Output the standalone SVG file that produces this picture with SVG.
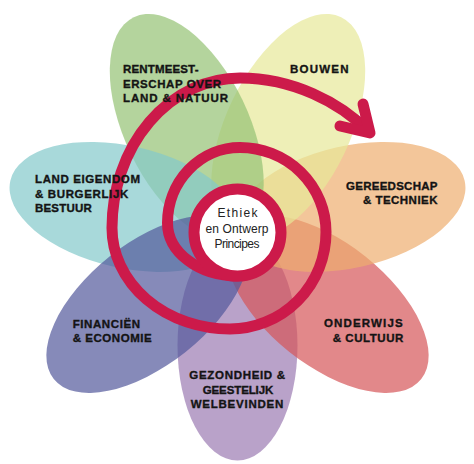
<svg xmlns="http://www.w3.org/2000/svg" width="474" height="464" viewBox="0 0 474 464">
<style>
.petal{fill-opacity:0.7;stroke:none}
.lbl{font-family:"Liberation Sans",Arial,sans-serif;font-weight:700;font-size:11.5px;fill:#141414;stroke:#141414;stroke-width:0.35}
.mid{text-anchor:middle}
.end{text-anchor:end}
.spiral{fill:none;stroke:#cc1a4a;stroke-width:11;stroke-linecap:round;stroke-linejoin:round}
.center-txt{font-family:"Liberation Sans",Arial,sans-serif;font-size:12px;fill:#222;text-anchor:middle}
</style>
<rect width="474" height="464" fill="#ffffff"/>
<g id="petals">
  <g id="gezondheid"><ellipse class="petal" cx="350.5" cy="232.5" rx="115" ry="60" fill="#9b7ab2" transform="rotate(90 237.5 232.5)"/></g>
  <g id="onderwijs"><ellipse class="petal" cx="352.5" cy="232.5" rx="120" ry="61" fill="#d65659" transform="rotate(38.57 237.5 232.5)"/></g>
  <g id="gereedschap"><ellipse class="petal" cx="352.5" cy="232.5" rx="118" ry="61" fill="#eeae6f" transform="rotate(-12.86 237.5 232.5)"/></g>
  <g id="bouwen"><ellipse class="petal" cx="354.5" cy="232.5" rx="122" ry="62" fill="#e7e898" transform="rotate(-64.29 237.5 232.5)"/></g>
  <g id="rentmeesterschap"><ellipse class="petal" cx="354.5" cy="232.5" rx="122" ry="62" fill="#94c273" transform="rotate(-115.71 237.5 232.5)"/></g>
  <g id="land-eigendom"><ellipse class="petal" cx="352.5" cy="232.5" rx="118" ry="61" fill="#83c9ca" transform="rotate(-167.14 237.5 232.5)"/></g>
  <g id="financien"><ellipse class="petal" cx="352.5" cy="232.5" rx="120" ry="61" fill="#52589b" transform="rotate(141.43 237.5 232.5)"/></g>
</g>
<g id="connectors">
  <path class="spiral" d="M237.5 276 A70 53 0 0 1 167.5 223 A72.5 75.5 0 0 1 240 147.5 A86 84.5 0 0 1 326 232 A96 97 0 0 1 230 329 A118 101 0 0 1 112 228 A128 150 0 0 1 240 78 C292 78 340 102 369 132"/>
  <path class="spiral" d="M363 104 L370 133 L340 126"/>
</g>
<g id="center">
  <circle cx="237.5" cy="232.5" r="43.5" fill="#ffffff" stroke="#cc1a4a" stroke-width="11"/>
  <text class="center-txt" x="237.5" y="217" textLength="40">Ethiek</text>
  <text class="center-txt" x="237" y="232.5" textLength="63">en Ontwerp</text>
  <text class="center-txt" x="237" y="248" textLength="45">Principes</text>
</g>
<g id="labels">
  <g id="label-rentmeesterschap">
    <text class="lbl" x="123" y="73" textLength="75.5">RENTMEEST-</text>
    <text class="lbl" x="123" y="87.5" textLength="98">ERSCHAP OVER</text>
    <text class="lbl" x="123" y="102" textLength="105">LAND &amp; NATUUR</text>
  </g>
  <g id="label-bouwen"><text class="lbl" x="290" y="73" textLength="58.5">BOUWEN</text></g>
  <g id="label-gereedschap">
    <text class="lbl end" x="437.5" y="190" textLength="91.5">GEREEDSCHAP</text>
    <text class="lbl end" x="437.5" y="204" textLength="74.5">&amp; TECHNIEK</text>
  </g>
  <g id="label-land-eigendom">
    <text class="lbl" x="35" y="183.3" textLength="105">LAND EIGENDOM</text>
    <text class="lbl" x="35" y="197.5" textLength="93.3">&amp; BURGERLIJK</text>
    <text class="lbl" x="35" y="211.7" textLength="56.7">BESTUUR</text>
  </g>
  <g id="label-financien">
    <text class="lbl" x="72.7" y="328.3" textLength="67.3">FINANCIËN</text>
    <text class="lbl" x="72.7" y="341.7" textLength="79">&amp; ECONOMIE</text>
  </g>
  <g id="label-gezondheid">
    <text class="lbl mid" x="237.2" y="379.3" textLength="95.7">GEZONDHEID &amp;</text>
    <text class="lbl mid" x="238" y="394" textLength="70.6">GEESTELIJK</text>
    <text class="lbl mid" x="237" y="408.3" textLength="92.6">WELBEVINDEN</text>
  </g>
  <g id="label-onderwijs">
    <text class="lbl end" x="402.7" y="327.3" textLength="78.7">ONDERWIJS</text>
    <text class="lbl end" x="403.3" y="342" textLength="70.6">&amp; CULTUUR</text>
  </g>
</g>
</svg>
